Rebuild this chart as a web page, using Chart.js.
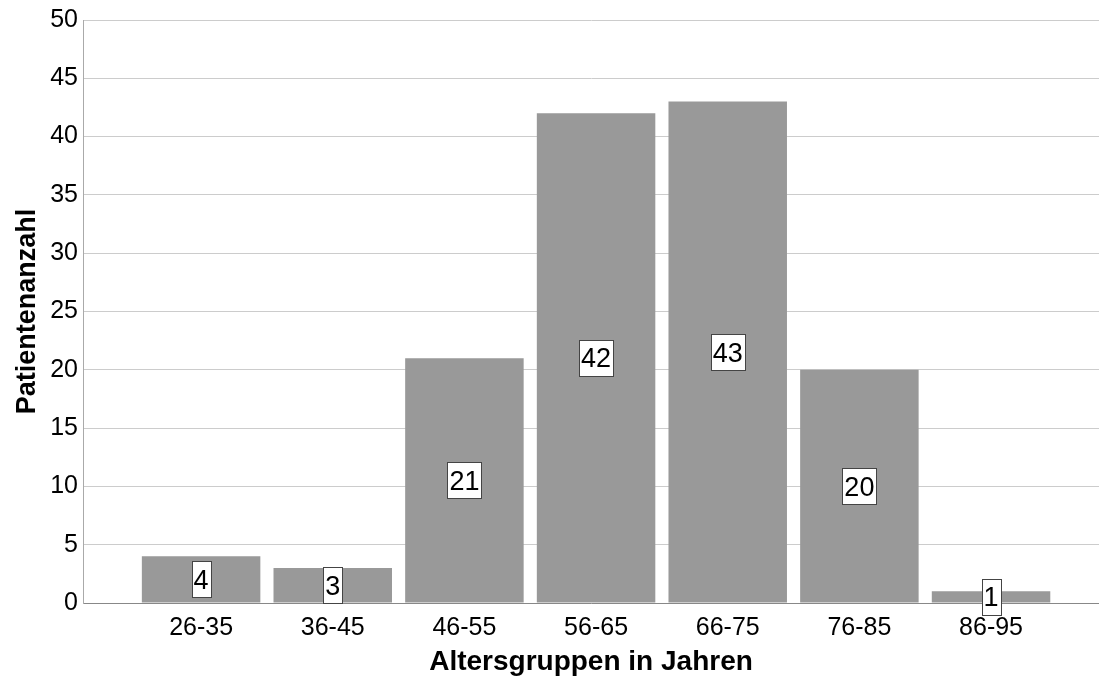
<!DOCTYPE html>
<html>
<head>
<meta charset="utf-8">
<script src="https://cdn.jsdelivr.net/npm/chart.js@4.4.1/dist/chart.umd.min.js"></script>
<style>
  html, body { margin: 0; padding: 0; background: #fff; }
  #wrap { width: 1099px; height: 676px; }
</style>
</head>
<body>
<div id="wrap"><canvas id="ageChart" width="1099" height="676"></canvas></div>
<script>
// age groups and patient counts
const ageGroups = ['26-35', '36-45', '46-55', '56-65', '66-75', '76-85', '86-95'];
const patientCounts = [4, 3, 21, 42, 43, 20, 1];
const yTicks = [0, 5, 10, 15, 20, 25, 30, 35, 40, 45, 50];

// boxed value labels in the middle of each bar
const boxLabels = {
    id: 'boxLabels',
    afterDatasetsDraw(chart) {
        const ctx = chart.ctx;
        const meta = chart.getDatasetMeta(0);
        ctx.save();
        ctx.font = '27px "Liberation Sans", Arial, sans-serif';
        ctx.textAlign = 'center';
        ctx.textBaseline = 'middle';
        meta.data.forEach((bar, i) => {
            const txt = String(patientCounts[i]);
            const cy = (bar.y + bar.base) / 2;
            const w = Math.round(ctx.measureText(txt).width + 4);
            const h = 36;
            const bx = Math.round(bar.x - w / 2), by = Math.round(cy - h / 2);
            ctx.fillStyle = '#fff';
            ctx.fillRect(bx, by, w, h);
            ctx.strokeStyle = '#444';
            ctx.lineWidth = 1;
            ctx.strokeRect(bx + 0.5, by + 0.5, w, h);
            ctx.fillStyle = '#000';
            ctx.fillText(txt, bar.x, cy + 2);
        });
        ctx.restore();
    }
};

new Chart(document.getElementById('ageChart').getContext('2d'), {
    type: 'bar',
    data: {
        datasets: [{
            data: patientCounts.map((v, i) => ({ x: i, y: v })),
            backgroundColor: '#999999',
            borderWidth: 0,
            barPercentage: 0.9,
            categoryPercentage: 1.0
        }]
    },
    options: {
        responsive: false,
        animation: false,
        layout: { padding: { top: 20, right: 0, left: 0, bottom: 0 } },
        plugins: { legend: { display: false }, tooltip: { enabled: false } },
        scales: {
            x: {
                type: 'linear',
                offset: false,
                min: -0.897,
                max: 6.82,
                afterBuildTicks: s => { s.ticks = ageGroups.map((g, i) => ({ value: i })); },
                afterFit: s => { s.height = 73; },
                grid: { display: false },
                border: { display: true, color: '#888', width: 1 },
                ticks: {
                    callback: v => ageGroups[v],
                    color: '#000',
                    font: { family: '"Liberation Sans", Arial, sans-serif', size: 25 },
                    padding: 2,
                    maxRotation: 0
                },
                title: {
                    display: true,
                    text: 'Altersgruppen in Jahren',
                    color: '#000',
                    font: { family: '"Liberation Sans", Arial, sans-serif', size: 28, weight: 'bold', lineHeight: 1 },
                    padding: { top: 0, bottom: 0 }
                }
            },
            y: {
                min: 0,
                max: 50,
                afterBuildTicks: s => { s.ticks = yTicks.map(v => ({ value: v })); },
                afterFit: s => { s.width = 83; },
                grid: { color: '#cccccc', drawTicks: false },
                border: { display: true, color: '#aaa', width: 1 },
                ticks: {
                    color: '#000',
                    font: { family: '"Liberation Sans", Arial, sans-serif', size: 25 },
                    padding: 5
                },
                title: {
                    display: true,
                    text: 'Patientenanzahl',
                    color: '#000',
                    font: { family: '"Liberation Sans", Arial, sans-serif', size: 27, weight: 'bold', lineHeight: 1 },
                    padding: { top: 14, bottom: 0 }
                }
            }
        }
    },
    plugins: [boxLabels]
});
</script>
</body>
</html>
